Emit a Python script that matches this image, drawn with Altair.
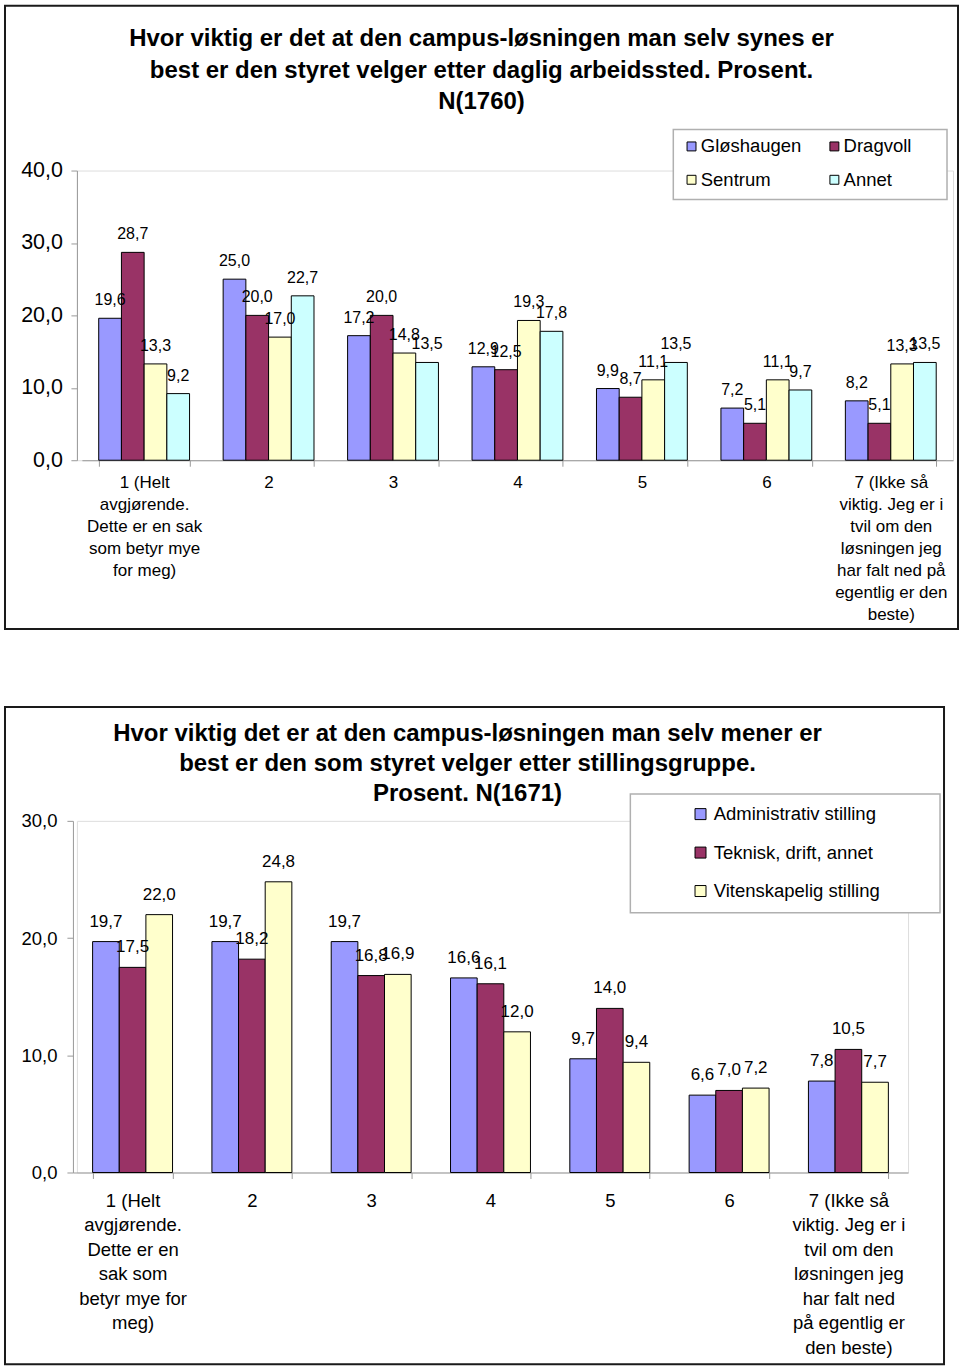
import json
import altair as alt
import pandas as pd

FONT = "Liberation Sans"

# ---------------- data ----------------
categories = ["1", "2", "3", "4", "5", "6", "7"]

campus_series = ["Gløshaugen", "Dragvoll", "Sentrum", "Annet"]
campus_colors = ["#9999FF", "#993366", "#FFFFCC", "#CCFFFF"]
gloshaugen = [19.6, 25.0, 17.2, 12.9, 9.9, 7.2, 8.2]
dragvoll = [28.7, 20.0, 20.0, 12.5, 8.7, 5.1, 5.1]
sentrum = [13.3, 17.0, 14.8, 19.3, 11.1, 11.1, 13.3]
annet = [9.2, 22.7, 13.5, 17.8, 13.5, 9.7, 13.5]

job_series = ["Administrativ stilling", "Teknisk, drift, annet", "Vitenskapelig stilling"]
job_colors = ["#9999FF", "#993366", "#FFFFCC"]
administrativ = [19.7, 19.7, 19.7, 16.6, 9.7, 6.6, 7.8]
teknisk = [17.5, 18.2, 16.8, 16.1, 14.0, 7.0, 10.5]
vitenskapelig = [22.0, 24.8, 16.9, 12.0, 9.4, 7.2, 7.7]

tick_labels_1 = [
    ["1 (Helt", "avgjørende.", "Dette er en sak", "som betyr mye", "for meg)"],
    ["2"], ["3"], ["4"], ["5"], ["6"],
    ["7 (Ikke så", "viktig. Jeg er i", "tvil om den", "løsningen jeg",
     "har falt ned på", "egentlig er den", "beste)"],
]
tick_labels_2 = [
    ["1 (Helt", "avgjørende.", "Dette er en", "sak som", "betyr mye for", "meg)"],
    ["2"], ["3"], ["4"], ["5"], ["6"],
    ["7 (Ikke så", "viktig. Jeg er i", "tvil om den", "løsningen jeg",
     "har falt ned", "på egentlig er", "den beste)"],
]

title_1 = ["Hvor viktig er det at den campus-løsningen man selv synes er",
           "best er den styret velger etter daglig arbeidssted. Prosent.",
           "N(1760)"]
title_2 = ["Hvor viktig det er at den campus-løsningen man selv mener er",
           "best er den som styret velger etter stillingsgruppe.",
           "Prosent. N(1671)"]


def long_df(series, columns):
    rows = []
    for s, vals in zip(series, columns):
        for c, v in zip(categories, vals):
            rows.append({"cat": c, "series": s, "value": v})
    return pd.DataFrame(rows)


def label_expr(labels):
    parts = [f"datum.label == {json.dumps(c)} ? {json.dumps(l, ensure_ascii=False)}"
             for c, l in zip(categories, labels)]
    return " : ".join(parts) + " : datum.label"


def legend_order(series, colors, columns):
    # the legend fills column by column; reorder so it reads row by row
    n = len(series)
    rows = -(-n // columns)
    idx = [r * columns + c for c in range(columns) for r in range(rows)
           if r * columns + c < n]
    return [series[i] for i in idx], [colors[i] for i in idx]


one = pd.DataFrame({"a": [0]})
NUMFMT = "replace(format(datum.value, '.1f'), '.', ',')"


def panel(df, series, colors, labels, title_lines, *, width, height, xrange,
          pad_inner, ymax, yfs, ypad, xfs, xlh, xpad, yoffset, bar_fs, bar_dy,
          frame, legbox, legend, title_x, title_ys, title_fs):
    x = alt.X("cat:N", sort=categories, title=None,
              scale=alt.Scale(domain=categories, range=xrange,
                              paddingInner=pad_inner, paddingOuter=pad_inner / 2),
              axis=alt.Axis(labelExpr=label_expr(labels), labelAngle=0,
                            labelFontSize=xfs, labelLineHeight=xlh,
                            labelPadding=xpad, labelLimit=0, tickBand="extent",
                            tickSize=6, domainColor="#999999", tickColor="#999999",
                            labelColor="black", grid=False, labelFont=FONT))
    xo = alt.XOffset("series:N", sort=series,
                     scale=alt.Scale(domain=series, paddingInner=0, paddingOuter=0))
    y = alt.Y("value:Q", title=None,
              scale=alt.Scale(domain=[0, ymax], nice=False),
              axis=alt.Axis(values=list(range(0, ymax + 1, 10)), labelExpr=NUMFMT,
                            grid=False, tickSize=6, domainColor="#999999",
                            tickColor="#999999", labelColor="black",
                            labelFontSize=yfs, labelPadding=ypad, offset=yoffset,
                            labelFont=FONT))
    lg_series, lg_colors = legend_order(series, colors, legend["columns"])
    color = alt.Color("series:N", sort=lg_series,
                      scale=alt.Scale(domain=lg_series, range=lg_colors),
                      legend=alt.Legend(**legend))

    fr = alt.Chart(one).mark_rect(fillOpacity=0, stroke="#1a1a1a", strokeWidth=2).encode(
        x=alt.value(frame[0]), x2=alt.value(frame[1]),
        y=alt.value(frame[2]), y2=alt.value(frame[3]))
    lb = alt.Chart(one).mark_rect(fill="white", stroke="#b0b0b0", strokeWidth=1.5).encode(
        x=alt.value(legbox[0]), x2=alt.value(legbox[1]),
        y=alt.value(legbox[2]), y2=alt.value(legbox[3]))
    bars = alt.Chart(df).mark_bar(stroke="black", strokeWidth=1).encode(
        x=x, xOffset=xo, y=y, color=color)
    txt = alt.Chart(df).transform_calculate(
        lab="replace(format(datum.value, '.1f'), '.', ',')"
    ).mark_text(baseline="middle", dy=bar_dy, fontSize=bar_fs, font=FONT,
                color="black").encode(x=x, xOffset=xo, y=y, text="lab:N")
    titles = [alt.Chart(one).mark_text(text=t, fontSize=title_fs, fontWeight="bold",
                                       font=FONT, align="center", baseline="middle",
                                       color="black").encode(
        x=alt.value(title_x), y=alt.value(ty)) for t, ty in zip(title_lines, title_ys)]
    return alt.layer(fr, lb, bars, txt, *titles).properties(width=width, height=height)


df1 = long_df(campus_series, [gloshaugen, dragvoll, sentrum, annet])
df2 = long_df(job_series, [administrativ, teknisk, vitenskapelig])

c1 = panel(df1, campus_series, campus_colors, tick_labels_1, title_1,
           width=877, height=290, xrange=[5, 877], pad_inner=0.27, ymax=40,
           yfs=21.5, ypad=8.5, xfs=17, xlh=22, xpad=8, yoffset=0, bar_fs=16,
           bar_dy=-18,
           frame=[-72, 882, -165, 459], legbox=[597, 871, -41, 29],
           legend=dict(title=None, orient="none", legendX=606, legendY=-33.5,
                       columns=2, symbolType="square", symbolSize=80,
                       symbolStrokeColor="black", symbolStrokeWidth=1,
                       labelFont=FONT, labelFontSize=18.5, labelOffset=0,
                       columnPadding=23, rowPadding=14.5, padding=0, labelLimit=0),
           title_x=405, title_ys=[-132, -100, -69], title_fs=24)

c2 = panel(df2, job_series, job_colors, tick_labels_2, title_2,
           width=832, height=352, xrange=[-4, 832], pad_inner=0.33, ymax=30,
           yfs=18.5, ypad=10, xfs=18.5, xlh=24.5, xpad=13, yoffset=4, bar_fs=17,
           bar_dy=-20,
           frame=[-72, 868, -114, 544], legbox=[554, 864, -27, 92],
           legend=dict(title=None, orient="none", legendX=615, legendY=-16,
                       columns=1, symbolType="square", symbolSize=121,
                       symbolStrokeColor="black", symbolStrokeWidth=1,
                       labelFont=FONT, labelFontSize=18.5, labelOffset=4,
                       rowPadding=19.5, padding=0, labelLimit=0),
           title_x=391, title_ys=[-87, -57, -27], title_fs=24)

chart = alt.vconcat(c1, c2, spacing=74).resolve_scale(
    color="independent", x="independent", y="independent", xOffset="independent"
).resolve_legend(color="independent").properties(
    padding={"left": 3, "top": 3, "right": 0, "bottom": 0}
).configure_view(stroke=None).configure(font=FONT)

chart.save("out.html", embed_options={"renderer": "svg", "actions": False})
